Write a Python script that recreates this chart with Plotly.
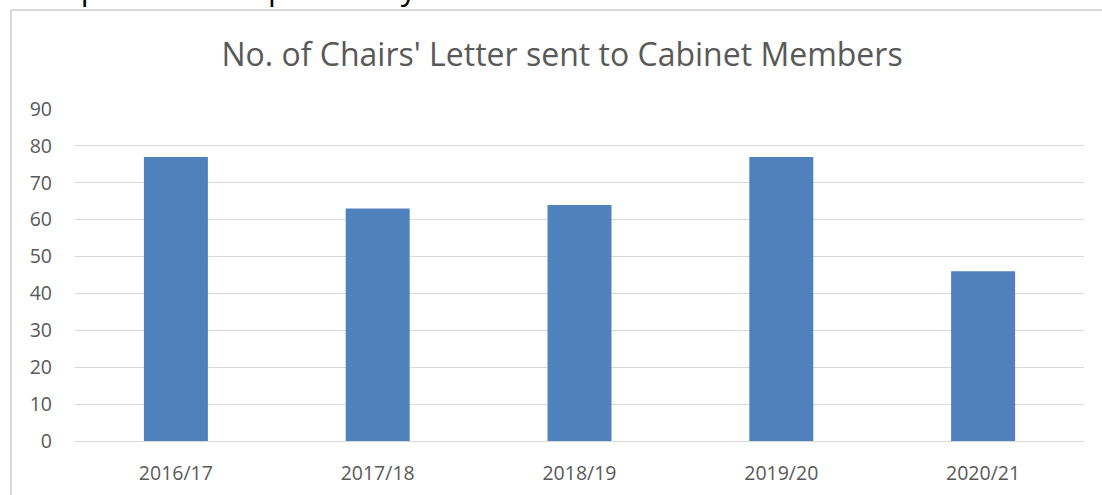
import plotly.graph_objects as go

categories = ["2016/17", "2017/18", "2018/19", "2019/20", "2020/21"]
values = [77, 63, 64, 77, 46]
y_ticks = [0, 10, 20, 30, 40, 50, 60, 70, 80, 90]

W, H = 1102, 495
ML, MR, MT, MB = 75, 18, 109, 54
pw, ph = W - ML - MR, H - MT - MB

def px_x(x):
    return (x - ML) / pw

def px_y(y):
    return (H - MB - y) / ph

fig = go.Figure(go.Bar(
    x=categories, y=values,
    marker=dict(color="#4f81bd", line=dict(width=0)),
    width=0.317,
))

fig.update_layout(
    width=W, height=H,
    margin=dict(l=ML, r=MR, t=MT, b=MB, autoexpand=False),
    paper_bgcolor="white", plot_bgcolor="white",
    font=dict(family="Open Sans", color="#595959"),
    showlegend=False,
    title=dict(text="No. of Chairs' Letter sent to Cabinet Members",
               x=0.51, xanchor="center", y=1 - 55 / H, yanchor="middle",
               font=dict(size=32, color="#595959", family="Open Sans")),
    xaxis=dict(showgrid=False, showline=False, ticks="", tickfont=dict(size=19.5),
               ticklabelstandoff=18, automargin=False),
    yaxis=dict(range=[0, 90], tickvals=y_ticks, showgrid=True, gridcolor="#d9d9d9",
               gridwidth=1, zeroline=True, zerolinecolor="#d9d9d9", zerolinewidth=1,
               tickfont=dict(size=19.5), ticklabelstandoff=22, showline=False,
               automargin=False),
    shapes=[
        dict(type="line", xref="paper", yref="paper", x0=px_x(11), x1=px_x(1110),
             y0=px_y(10), y1=px_y(10), line=dict(color="#d9d9d9", width=2)),
        dict(type="line", xref="paper", yref="paper", x0=px_x(11), x1=px_x(11),
             y0=px_y(10), y1=px_y(500), line=dict(color="#d9d9d9", width=2)),
    ],
    annotations=[
        dict(text="Comparison with previous years.", xref="paper", yref="paper",
             x=px_x(12), y=px_y(11), xanchor="left", yanchor="bottom", showarrow=False,
             font=dict(size=31, color="black", family="Open Sans")),
    ],
)

fig.write_html("out.html", config={"displayModeBar": False},
               post_script="document.body.style.margin='0';document.body.style.overflow='hidden';")
